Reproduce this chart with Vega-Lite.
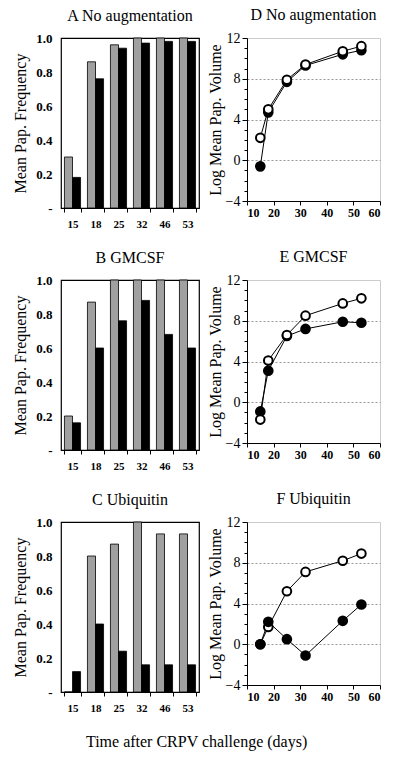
{
  "$schema": "https://vega.github.io/schema/vega-lite/v6.json",
  "padding": {"left": 12, "top": 6, "right": 2, "bottom": 4},
  "background": "white",
  "config": {
    "font": "Liberation Serif",
    "view": {"stroke": null},
    "axis": {"domainColor": "black", "tickColor": "black", "labelColor": "black", "titleColor": "black", "labelFont": "Liberation Serif", "titleFont": "Liberation Serif", "titleFontWeight": "normal", "labelFontSize": 13, "titleFontSize": 16},
    "title": {"font": "Liberation Serif", "fontSize": 16, "fontWeight": "normal", "color": "black", "offset": 8},
    "concat": {"spacing": 6}
  },
  "title": {"text": "Time after CRPV challenge (days)", "orient": "bottom", "anchor": "middle", "fontSize": 16, "fontWeight": "normal", "offset": 20},
  "resolve": {"scale": {"fill": "independent", "x": "independent", "y": "independent"}},
  "spacing": 18,
  "datasets": {
    "bars": [
      {"panel": "A", "day": 15, "series": "gray", "value": 0.30},
      {"panel": "A", "day": 18, "series": "gray", "value": 0.86},
      {"panel": "A", "day": 25, "series": "gray", "value": 0.96},
      {"panel": "A", "day": 32, "series": "gray", "value": 1.0},
      {"panel": "A", "day": 46, "series": "gray", "value": 1.0},
      {"panel": "A", "day": 53, "series": "gray", "value": 1.0},
      {"panel": "A", "day": 15, "series": "black", "value": 0.18},
      {"panel": "A", "day": 18, "series": "black", "value": 0.76},
      {"panel": "A", "day": 25, "series": "black", "value": 0.94},
      {"panel": "A", "day": 32, "series": "black", "value": 0.97},
      {"panel": "A", "day": 46, "series": "black", "value": 0.98},
      {"panel": "A", "day": 53, "series": "black", "value": 0.98},
      {"panel": "B", "day": 15, "series": "gray", "value": 0.20},
      {"panel": "B", "day": 18, "series": "gray", "value": 0.87},
      {"panel": "B", "day": 25, "series": "gray", "value": 1.0},
      {"panel": "B", "day": 32, "series": "gray", "value": 1.0},
      {"panel": "B", "day": 46, "series": "gray", "value": 1.0},
      {"panel": "B", "day": 53, "series": "gray", "value": 1.0},
      {"panel": "B", "day": 15, "series": "black", "value": 0.16},
      {"panel": "B", "day": 18, "series": "black", "value": 0.60},
      {"panel": "B", "day": 25, "series": "black", "value": 0.76},
      {"panel": "B", "day": 32, "series": "black", "value": 0.88},
      {"panel": "B", "day": 46, "series": "black", "value": 0.68},
      {"panel": "B", "day": 53, "series": "black", "value": 0.60},
      {"panel": "C", "day": 15, "series": "gray", "value": 0.0},
      {"panel": "C", "day": 18, "series": "gray", "value": 0.80},
      {"panel": "C", "day": 25, "series": "gray", "value": 0.87},
      {"panel": "C", "day": 32, "series": "gray", "value": 1.0},
      {"panel": "C", "day": 46, "series": "gray", "value": 0.93},
      {"panel": "C", "day": 53, "series": "gray", "value": 0.93},
      {"panel": "C", "day": 15, "series": "black", "value": 0.12},
      {"panel": "C", "day": 18, "series": "black", "value": 0.40},
      {"panel": "C", "day": 25, "series": "black", "value": 0.24},
      {"panel": "C", "day": 32, "series": "black", "value": 0.16},
      {"panel": "C", "day": 46, "series": "black", "value": 0.16},
      {"panel": "C", "day": 53, "series": "black", "value": 0.16}
    ],
    "lines": [
      {"panel": "D", "day": 15, "kind": "filled", "value": -0.6},
      {"panel": "D", "day": 18, "kind": "filled", "value": 4.7},
      {"panel": "D", "day": 25, "kind": "filled", "value": 7.7},
      {"panel": "D", "day": 32, "kind": "filled", "value": 9.3},
      {"panel": "D", "day": 46, "kind": "filled", "value": 10.4},
      {"panel": "D", "day": 53, "kind": "filled", "value": 10.8},
      {"panel": "D", "day": 15, "kind": "open", "value": 2.2},
      {"panel": "D", "day": 18, "kind": "open", "value": 5.0},
      {"panel": "D", "day": 25, "kind": "open", "value": 7.9},
      {"panel": "D", "day": 32, "kind": "open", "value": 9.4},
      {"panel": "D", "day": 46, "kind": "open", "value": 10.7},
      {"panel": "D", "day": 53, "kind": "open", "value": 11.2},
      {"panel": "E", "day": 15, "kind": "filled", "value": -0.9},
      {"panel": "E", "day": 18, "kind": "filled", "value": 3.1},
      {"panel": "E", "day": 25, "kind": "filled", "value": 6.5},
      {"panel": "E", "day": 32, "kind": "filled", "value": 7.2},
      {"panel": "E", "day": 46, "kind": "filled", "value": 7.9},
      {"panel": "E", "day": 53, "kind": "filled", "value": 7.8},
      {"panel": "E", "day": 15, "kind": "open", "value": -1.7},
      {"panel": "E", "day": 18, "kind": "open", "value": 4.1},
      {"panel": "E", "day": 25, "kind": "open", "value": 6.6},
      {"panel": "E", "day": 32, "kind": "open", "value": 8.5},
      {"panel": "E", "day": 46, "kind": "open", "value": 9.7},
      {"panel": "E", "day": 53, "kind": "open", "value": 10.2},
      {"panel": "F", "day": 15, "kind": "open", "value": 0.0},
      {"panel": "F", "day": 18, "kind": "open", "value": 1.7},
      {"panel": "F", "day": 25, "kind": "open", "value": 5.2},
      {"panel": "F", "day": 32, "kind": "open", "value": 7.1},
      {"panel": "F", "day": 46, "kind": "open", "value": 8.2},
      {"panel": "F", "day": 53, "kind": "open", "value": 8.9},
      {"panel": "F", "day": 15, "kind": "filled", "value": 0.0},
      {"panel": "F", "day": 18, "kind": "filled", "value": 2.2},
      {"panel": "F", "day": 25, "kind": "filled", "value": 0.5},
      {"panel": "F", "day": 32, "kind": "filled", "value": -1.1},
      {"panel": "F", "day": 46, "kind": "filled", "value": 2.3},
      {"panel": "F", "day": 53, "kind": "filled", "value": 3.9}
    ]
  },
  "vconcat": [
    {
      "resolve": {"scale": {"fill": "independent", "x": "independent", "y": "independent"}},
      "hconcat": [
        {
          "title": "A No augmentation",
          "width": 138, "height": 170,
          "data": {"name": "bars"},
          "transform": [{"filter": "datum.panel === 'A'"}],
          "mark": {"type": "bar", "stroke": "black", "strokeWidth": 0.8},
          "encoding": {
            "x": {"field": "day", "type": "ordinal", "sort": [15, 18, 25, 32, 46, 53], "scale": {"paddingInner": 0.3, "paddingOuter": 0.15}, "axis": {"title": null, "tickBand": "extent", "labelAngle": 0, "labelFontWeight": "bold", "labelFontSize": 11, "labelPadding": 6, "tickSize": 4, "domain": false}},
            "xOffset": {"field": "series", "sort": ["gray", "black"]},
            "y": {"field": "value", "type": "quantitative", "scale": {"domain": [0, 1], "nice": false}, "axis": {"title": "Mean Pap. Frequency", "values": [0, 0.2, 0.4, 0.6, 0.8, 1], "labelExpr": "datum.value == 0 ? '-' : format(datum.value, '.1f')", "grid": false, "domain": false, "ticks": false, "labelPadding": 9, "labelFontWeight": "bold", "titlePadding": 7}},
            "fill": {"field": "series", "scale": {"domain": ["gray", "black"], "range": ["#a0a0a0", "#000000"]}, "legend": null}
          },
          "view": {"stroke": "black", "strokeWidth": 1.2}
        },
        {
          "title": "D No augmentation",
          "width": 133, "height": 163,
          "data": {"name": "lines"},
          "transform": [{"filter": "datum.panel === 'D'"}],
          "encoding": {
            "x": {"field": "day", "type": "quantitative", "scale": {"domain": [10, 60], "nice": false}, "axis": {"title": null, "values": [10, 20, 30, 40, 50, 60], "grid": false, "labelFontWeight": "bold", "labelFontSize": 12, "tickSize": 4}},
            "y": {"field": "value", "type": "quantitative", "scale": {"domain": [-4, 12], "nice": false}, "axis": {"title": "Log Mean Pap. Volume", "titlePadding": 2, "values": [-4, -3, -2, -1, 0, 1, 2, 3, 4, 5, 6, 7, 8, 9, 10, 11, 12], "labelOverlap": false, "labelExpr": "datum.value % 4 === 0 ? datum.label : ''", "tickSize": {"condition": {"test": "datum.value % 4 === 0", "value": 5}, "value": 3}, "grid": true, "gridDash": [2, 2], "gridColor": "#999", "gridOpacity": {"condition": {"test": "datum.value % 4 === 0 && datum.value > -4 && datum.value < 12", "value": 1}, "value": 0}, "labelFontSize": 14}}
          },
          "layer": [
            {"mark": {"type": "line", "color": "black", "strokeWidth": 1}, "encoding": {"detail": {"field": "kind"}}},
            {"mark": {"type": "circle", "stroke": "black", "strokeWidth": 2, "size": 75, "opacity": 1}, "encoding": {"fill": {"field": "kind", "scale": {"domain": ["open", "filled"], "range": ["white", "black"]}, "legend": null}}}
          ],
          "view": {"stroke": "#cccccc"}
        }
      ]
    },
    {
      "resolve": {"scale": {"fill": "independent", "x": "independent", "y": "independent"}},
      "hconcat": [
        {
          "title": "B GMCSF",
          "width": 138, "height": 170,
          "data": {"name": "bars"},
          "transform": [{"filter": "datum.panel === 'B'"}],
          "mark": {"type": "bar", "stroke": "black", "strokeWidth": 0.8},
          "encoding": {
            "x": {"field": "day", "type": "ordinal", "sort": [15, 18, 25, 32, 46, 53], "scale": {"paddingInner": 0.3, "paddingOuter": 0.15}, "axis": {"title": null, "tickBand": "extent", "labelAngle": 0, "labelFontWeight": "bold", "labelFontSize": 11, "labelPadding": 6, "tickSize": 4, "domain": false}},
            "xOffset": {"field": "series", "sort": ["gray", "black"]},
            "y": {"field": "value", "type": "quantitative", "scale": {"domain": [0, 1], "nice": false}, "axis": {"title": "Mean Pap. Frequency", "values": [0, 0.2, 0.4, 0.6, 0.8, 1], "labelExpr": "datum.value == 0 ? '-' : format(datum.value, '.1f')", "grid": false, "domain": false, "ticks": false, "labelPadding": 9, "labelFontWeight": "bold", "titlePadding": 7}},
            "fill": {"field": "series", "scale": {"domain": ["gray", "black"], "range": ["#a0a0a0", "#000000"]}, "legend": null}
          },
          "view": {"stroke": "black", "strokeWidth": 1.2}
        },
        {
          "title": "E GMCSF",
          "width": 133, "height": 163,
          "data": {"name": "lines"},
          "transform": [{"filter": "datum.panel === 'E'"}],
          "encoding": {
            "x": {"field": "day", "type": "quantitative", "scale": {"domain": [10, 60], "nice": false}, "axis": {"title": null, "values": [10, 20, 30, 40, 50, 60], "grid": false, "labelFontWeight": "bold", "labelFontSize": 12, "tickSize": 4}},
            "y": {"field": "value", "type": "quantitative", "scale": {"domain": [-4, 12], "nice": false}, "axis": {"title": "Log Mean Pap. Volume", "titlePadding": 2, "values": [-4, -3, -2, -1, 0, 1, 2, 3, 4, 5, 6, 7, 8, 9, 10, 11, 12], "labelOverlap": false, "labelExpr": "datum.value % 4 === 0 ? datum.label : ''", "tickSize": {"condition": {"test": "datum.value % 4 === 0", "value": 5}, "value": 3}, "grid": true, "gridDash": [2, 2], "gridColor": "#999", "gridOpacity": {"condition": {"test": "datum.value % 4 === 0 && datum.value > -4 && datum.value < 12", "value": 1}, "value": 0}, "labelFontSize": 14}}
          },
          "layer": [
            {"mark": {"type": "line", "color": "black", "strokeWidth": 1}, "encoding": {"detail": {"field": "kind"}}},
            {"mark": {"type": "circle", "stroke": "black", "strokeWidth": 2, "size": 75, "opacity": 1}, "encoding": {"fill": {"field": "kind", "scale": {"domain": ["open", "filled"], "range": ["white", "black"]}, "legend": null}}}
          ],
          "view": {"stroke": "#cccccc"}
        }
      ]
    },
    {
      "resolve": {"scale": {"fill": "independent", "x": "independent", "y": "independent"}},
      "hconcat": [
        {
          "title": "C Ubiquitin",
          "width": 138, "height": 170,
          "data": {"name": "bars"},
          "transform": [{"filter": "datum.panel === 'C'"}],
          "mark": {"type": "bar", "stroke": "black", "strokeWidth": 0.8},
          "encoding": {
            "x": {"field": "day", "type": "ordinal", "sort": [15, 18, 25, 32, 46, 53], "scale": {"paddingInner": 0.3, "paddingOuter": 0.15}, "axis": {"title": null, "tickBand": "extent", "labelAngle": 0, "labelFontWeight": "bold", "labelFontSize": 11, "labelPadding": 6, "tickSize": 4, "domain": false}},
            "xOffset": {"field": "series", "sort": ["gray", "black"]},
            "y": {"field": "value", "type": "quantitative", "scale": {"domain": [0, 1], "nice": false}, "axis": {"title": "Mean Pap. Frequency", "values": [0, 0.2, 0.4, 0.6, 0.8, 1], "labelExpr": "datum.value == 0 ? '-' : format(datum.value, '.1f')", "grid": false, "domain": false, "ticks": false, "labelPadding": 9, "labelFontWeight": "bold", "titlePadding": 7}},
            "fill": {"field": "series", "scale": {"domain": ["gray", "black"], "range": ["#a0a0a0", "#000000"]}, "legend": null}
          },
          "view": {"stroke": "black", "strokeWidth": 1.2}
        },
        {
          "title": "F Ubiquitin",
          "width": 133, "height": 163,
          "data": {"name": "lines"},
          "transform": [{"filter": "datum.panel === 'F'"}],
          "encoding": {
            "x": {"field": "day", "type": "quantitative", "scale": {"domain": [10, 60], "nice": false}, "axis": {"title": null, "values": [10, 20, 30, 40, 50, 60], "grid": false, "labelFontWeight": "bold", "labelFontSize": 12, "tickSize": 4}},
            "y": {"field": "value", "type": "quantitative", "scale": {"domain": [-4, 12], "nice": false}, "axis": {"title": "Log Mean Pap. Volume", "titlePadding": 2, "values": [-4, -3, -2, -1, 0, 1, 2, 3, 4, 5, 6, 7, 8, 9, 10, 11, 12], "labelOverlap": false, "labelExpr": "datum.value % 4 === 0 ? datum.label : ''", "tickSize": {"condition": {"test": "datum.value % 4 === 0", "value": 5}, "value": 3}, "grid": true, "gridDash": [2, 2], "gridColor": "#999", "gridOpacity": {"condition": {"test": "datum.value % 4 === 0 && datum.value > -4 && datum.value < 12", "value": 1}, "value": 0}, "labelFontSize": 14}}
          },
          "layer": [
            {"mark": {"type": "line", "color": "black", "strokeWidth": 1}, "encoding": {"detail": {"field": "kind"}}},
            {"mark": {"type": "circle", "stroke": "black", "strokeWidth": 2, "size": 75, "opacity": 1}, "encoding": {"fill": {"field": "kind", "scale": {"domain": ["open", "filled"], "range": ["white", "black"]}, "legend": null}}}
          ],
          "view": {"stroke": "#cccccc"}
        }
      ]
    }
  ]
}
